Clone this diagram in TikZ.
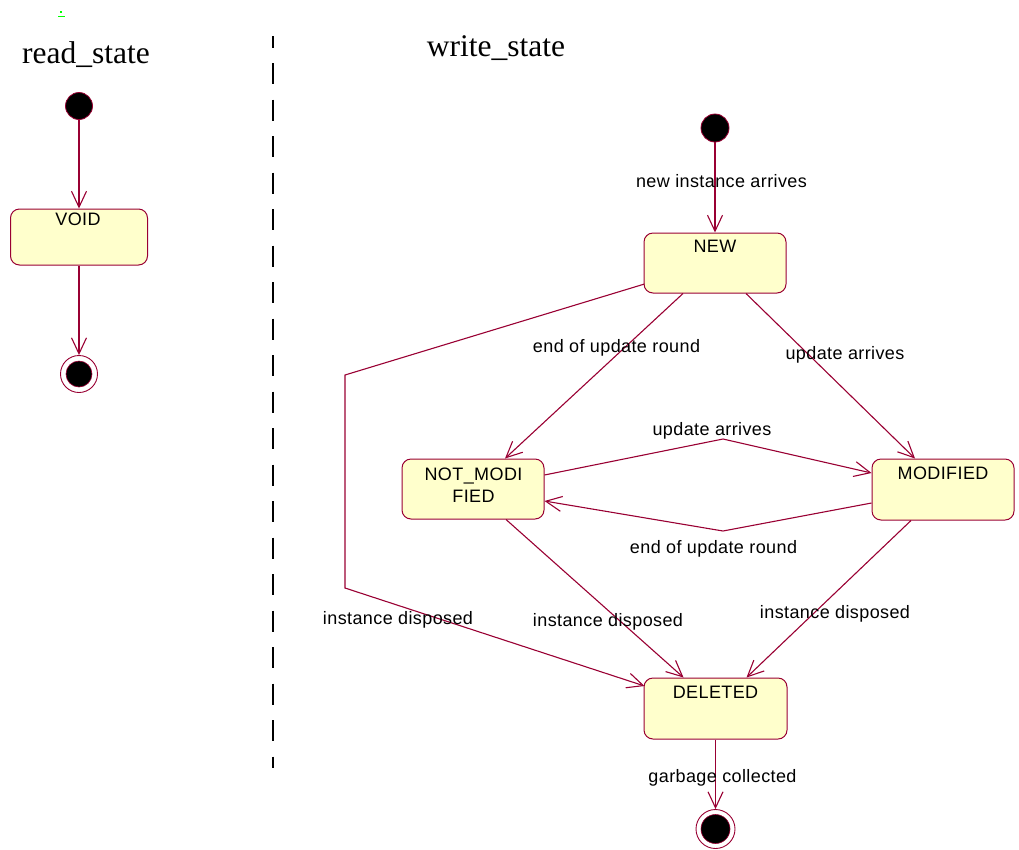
\documentclass[tikz,border=0pt]{standalone}
\usepackage{fontspec}
\setmainfont{Liberation Sans}[LetterSpace=2.2]
\newfontfamily\titlefont{Liberation Serif}
\usetikzlibrary{arrows.meta,calc}
\definecolor{rosered}{RGB}{153,0,51}
\definecolor{stfill}{RGB}{255,255,204}
\begin{document}
\begin{tikzpicture}[x=1pt,y=-1pt,
  conn/.style={draw=rosered, line width=1.1pt, -{Straight Barb[length=16pt,width=15pt]}},
  plainline/.style={draw=rosered, line width=1.1pt},
  statebox/.style={draw=rosered, fill=stfill, rounded corners=9pt, line width=1pt, inner sep=0pt, minimum width=142pt, minimum height=60pt},
  initdot/.style={circle, fill=black, draw=rosered, line width=0.8pt, inner sep=0pt, minimum size=27pt},
  finalring/.style={circle, fill=white, draw=rosered, line width=0.9pt, inner sep=0pt, minimum size=38pt},
  finaldot/.style={circle, fill=black, draw=rosered, line width=0.6pt, inner sep=0pt, minimum size=27pt},
  stname/.style={anchor=base, inner sep=0pt, font=\fontsize{18}{21}\selectfont},
  lbl/.style={anchor=base, inner sep=0pt, font=\fontsize{18}{21}\selectfont},
  ttl/.style={anchor=base, inner sep=0pt, font=\titlefont\fontsize{31.5}{36}\selectfont}
]
\useasboundingbox (0,0) rectangle (1019,849);
% green mark
\fill[green] (60,10.5) rectangle (62,12.5);
\fill[green] (58,15.5) rectangle (65,16.8);
% titles
\node[ttl] (rtitle) at (86,63) {read\_state};
\node[ttl] (wtitle) at (496,56) {write\_state};
% separator
\draw[black, line width=2pt, dash pattern=on 21pt off 15.5pt, dash phase=9.5pt] (272.5,36) -- (272.5,768);

% read_state
\node[initdot] (rinit) at (79,106) {};
\node[statebox, minimum width=137pt, minimum height=56pt] (void) at (79,237) {};
\node[stname] (voidT) at (78,225) {VOID};
\node[finalring, minimum size=37pt] (rfinal) at (79,374) {};
\node[finaldot, minimum size=26pt] (rfinalin) at (79,374) {};
\draw[conn] (rinit) -- (void);
\draw[conn] (void) -- (rfinal);

% write_state
\node[initdot, minimum size=28pt] (winit) at (715,128) {};
\node[statebox] (new) at (715,263) {};
\node[stname] (newT) at (715,252) {NEW};
\node[statebox] (notmod) at (473,489) {};
\node[stname] (notmodT1) at (473.5,480) {NOT\_MODI};
\node[stname] (notmodT2) at (473.5,502) {FIED};
\node[statebox, minimum height=61pt] (mod) at (943,489.5) {};
\node[stname] (modT) at (943,479) {MODIFIED};
\node[statebox, minimum width=143pt, minimum height=61pt] (del) at (715.5,708.5) {};
\node[stname] (delT) at (715.5,698) {DELETED};
\node[finalring, minimum size=39pt] (wfinal) at (715.5,829) {};
\node[finaldot, minimum size=29pt] (wfinalin) at (715.5,829) {};

\draw[conn] (winit) -- (new);
\node[lbl] (l1) at (721.5,187) {new instance arrives};

\draw[conn] ([xshift=-32pt]new.south) -- ([xshift=32pt]notmod.north);
\node[lbl] (l2) at (616.5,352) {end of update round};
\draw[conn] ([xshift=31pt]new.south) -- ([xshift=-28pt]mod.north);
\node[lbl] (l3) at (845,359) {update arrives};

\coordinate (ua) at (723,439);
\draw[conn] ($(notmod.east)+(0,-14)$) -- (ua) -- ($(mod.west)+(0,-16.5)$);
\node[lbl] (l4) at (712,435) {update arrives};
\coordinate (eu) at (723,531);
\draw[conn] ($(mod.west)+(0,13.5)$) -- (eu) -- ($(notmod.east)+(0,12)$);
\node[lbl] (l5) at (713.5,553) {end of update round};

\coordinate (c1) at (345,375);
\coordinate (c2) at (345,588);
\draw[conn] ($(new.west)+(1,21)$) -- (c1) -- (c2) -- ($(del.west)+(1,-22.5)$);
\node[lbl] (l6) at (398,624) {instance disposed};

\draw[conn] ([xshift=33pt]notmod.south) -- ([xshift=-32pt]del.north);
\node[lbl] (l7) at (608,626) {instance disposed};
\draw[conn] ([xshift=-32pt]mod.south) -- ([xshift=31pt]del.north);
\node[lbl] (l8) at (835,618) {instance disposed};

\draw[conn] (del) -- (wfinal);
\node[lbl] (l9) at (722.5,782) {garbage collected};
\end{tikzpicture}
\end{document}
